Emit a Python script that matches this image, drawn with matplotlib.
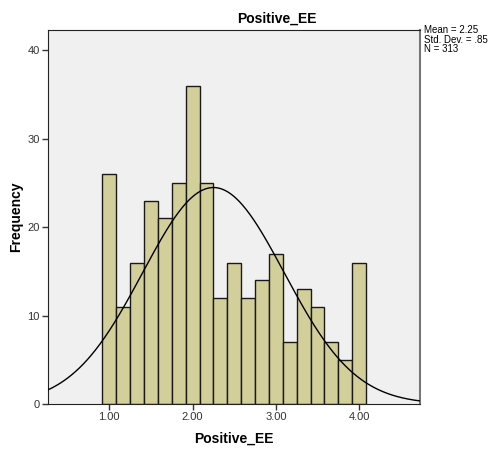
import numpy as np
import matplotlib
matplotlib.use("Agg")
import matplotlib.pyplot as plt

plt.rcParams['font.family'] = ['Liberation Sans', 'DejaVu Sans']

# histogram of Positive_EE, bin width 1/6, centred on 1.00 ... 4.00
bin_centers = [1 + i / 6 for i in range(19)]
counts = [26, 11, 16, 23, 21, 25, 36, 25, 12, 16, 12, 14, 17, 7, 13, 11, 7, 5, 16]
bin_width = 1 / 6
mean, sd, n = 2.25, 0.85, 313
xticks = [1.0, 2.0, 3.0, 4.0]
yticks = [0, 10, 20, 30, 40]

W, H = 492, 450
fig = plt.figure(figsize=(W / 100, H / 100), dpi=100)
# plot area in pixels: x 48..420, y 30..404
ax = fig.add_axes([48 / W, 1 - 404 / H, (420 - 48) / W, (404 - 30) / H])
ax.set_facecolor('#f0f0f0')

ax.bar(bin_centers, counts, width=bin_width, color='#d3cf9b',
       edgecolor='#1a1a1a', linewidth=1.0, zorder=2)

xs = np.linspace(0.26, 4.74, 400)
pdf = np.exp(-0.5 * ((xs - mean) / sd) ** 2) / (sd * np.sqrt(2 * np.pi))
ax.plot(xs, n * bin_width * pdf, color='black', linewidth=1.0, zorder=3)

ax.set_xlim(0.264, 4.73)
ax.set_ylim(0, 42.3)
ax.set_xticks(xticks)
ax.set_xticklabels([f'{t:.2f}' for t in xticks])
ax.set_yticks(yticks)
ax.tick_params(axis='both', labelsize=8, length=4, width=1, colors='#333333',
               direction='out', pad=2)
for side in ['left', 'bottom', 'top']:
    ax.spines[side].set_color('#222222')
ax.spines['right'].set_color('#777777')
ax.spines['right'].set_linewidth(1.5)

fig.text(277 / W, 1 - 19 / H, 'Positive_EE', ha='center', va='center',
         fontsize=10, fontweight='bold')
fig.text(234 / W, 1 - 439 / H, 'Positive_EE', ha='center', va='center',
         fontsize=10, fontweight='bold')
fig.text(16 / W, 1 - 217 / H, 'Frequency', ha='center', va='center',
         rotation=90, fontsize=10, fontweight='bold')
fig.text(424 / W, 1 - 25 / H, 'Mean = 2.25\nStd. Dev. = .85\nN = 313',
         ha='left', va='top', fontsize=7, linespacing=0.95)

fig.savefig('out.png', dpi=100)
